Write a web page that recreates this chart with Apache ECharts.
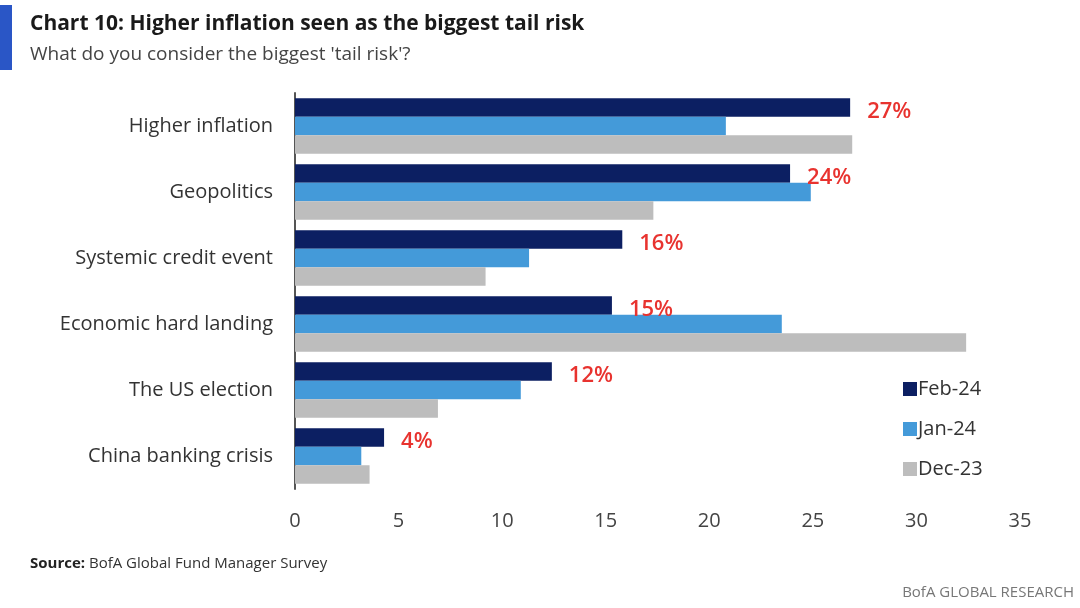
<!DOCTYPE html>
<html><head><meta charset="utf-8">
<script src="https://cdn.jsdelivr.net/npm/echarts@6/dist/echarts.min.js"></script>
<style>html,body{margin:0;padding:0;background:#fff}#c{width:1080px;height:608px}</style>
</head><body><div id="c"></div>
<script>
const categories = ['Higher inflation','Geopolitics','Systemic credit event','Economic hard landing','The US election','China banking crisis'];
const feb24 = [26.8, 23.9, 15.8, 15.3, 12.4, 4.3];
const jan24 = [20.8, 24.9, 11.3, 23.5, 10.9, 3.2];
const dec23 = [26.9, 17.3, 9.2, 32.4, 6.9, 3.6];
const xTicks = [0,5,10,15,20,25,30,35];

const FONT = '"Open Sans", "Noto Sans", sans-serif';
const chart = echarts.init(document.getElementById('c'));
chart.setOption({
  animation:false,
  textStyle:{fontFamily:FONT},
  title:[{
    text:'Chart 10: Higher inflation seen as the biggest tail risk',
    left:25, top:9,
    textStyle:{fontFamily:FONT,fontWeight:'bold',fontSize:21,color:'#1a1a1a'}
  },{
    text:"What do you consider the biggest 'tail risk'?",
    left:25, top:40,
    textStyle:{fontFamily:FONT,fontWeight:'normal',fontSize:19,color:'#444'}
  }],
  graphic:[
    {type:'rect',left:0,top:5,shape:{width:12,height:65},style:{fill:'#2a56c6'}},
    {type:'text',left:30,top:556,style:{text:'{b|Source:} BofA Global Fund Manager Survey',
      rich:{b:{fontWeight:'bold',fontSize:15,fill:'#222',fontFamily:FONT}},fontSize:15,fill:'#333',fontFamily:FONT}},
    {type:'text',right:6,top:585,style:{text:'BofA GLOBAL RESEARCH',fontSize:15,fill:'#777',fontFamily:FONT}}
  ],
  legend:{
    orient:'vertical', left:898, top:374, itemGap:20,
    itemWidth:14, itemHeight:14, icon:'rect',
    textStyle:{fontSize:20,color:'#333',fontFamily:FONT,padding:[0,0,0,-4]},
    data:['Feb-24','Jan-24','Dec-23']
  },
  grid:{left:295,right:60,top:93,bottom:119,containLabel:false},
  xAxis:{
    type:'value',min:0,max:35,interval:5,
    axisLine:{show:false},axisTick:{show:false},splitLine:{show:false},
    axisLabel:{fontSize:20,color:'#444',margin:22,fontFamily:FONT,
      formatter:v=>xTicks.includes(v)?String(v):''}
  },
  yAxis:{
    type:'category',data:categories,inverse:true,
    axisLine:{show:true,lineStyle:{color:'#555',width:2}},
    axisTick:{show:false},
    axisLabel:{fontSize:20,color:'#333',margin:22,fontFamily:FONT}
  },
  series:[
    {name:'Feb-24',type:'bar',data:feb24,barGap:'0%',barCategoryGap:'16%',
     itemStyle:{color:'#0c1f62'},
     label:{show:true,position:'right',distance:17,color:'#e8332f',fontSize:22,fontWeight:600,fontFamily:FONT,
       offset:[0,4],formatter:p=>Math.round(p.value)+'%'}},
    {name:'Jan-24',type:'bar',data:jan24,barGap:'0%',barCategoryGap:'16%',itemStyle:{color:'#449ad9'}},
    {name:'Dec-23',type:'bar',data:dec23,barGap:'0%',barCategoryGap:'16%',itemStyle:{color:'#bdbdbd'}}
  ]
});
</script></body></html>
